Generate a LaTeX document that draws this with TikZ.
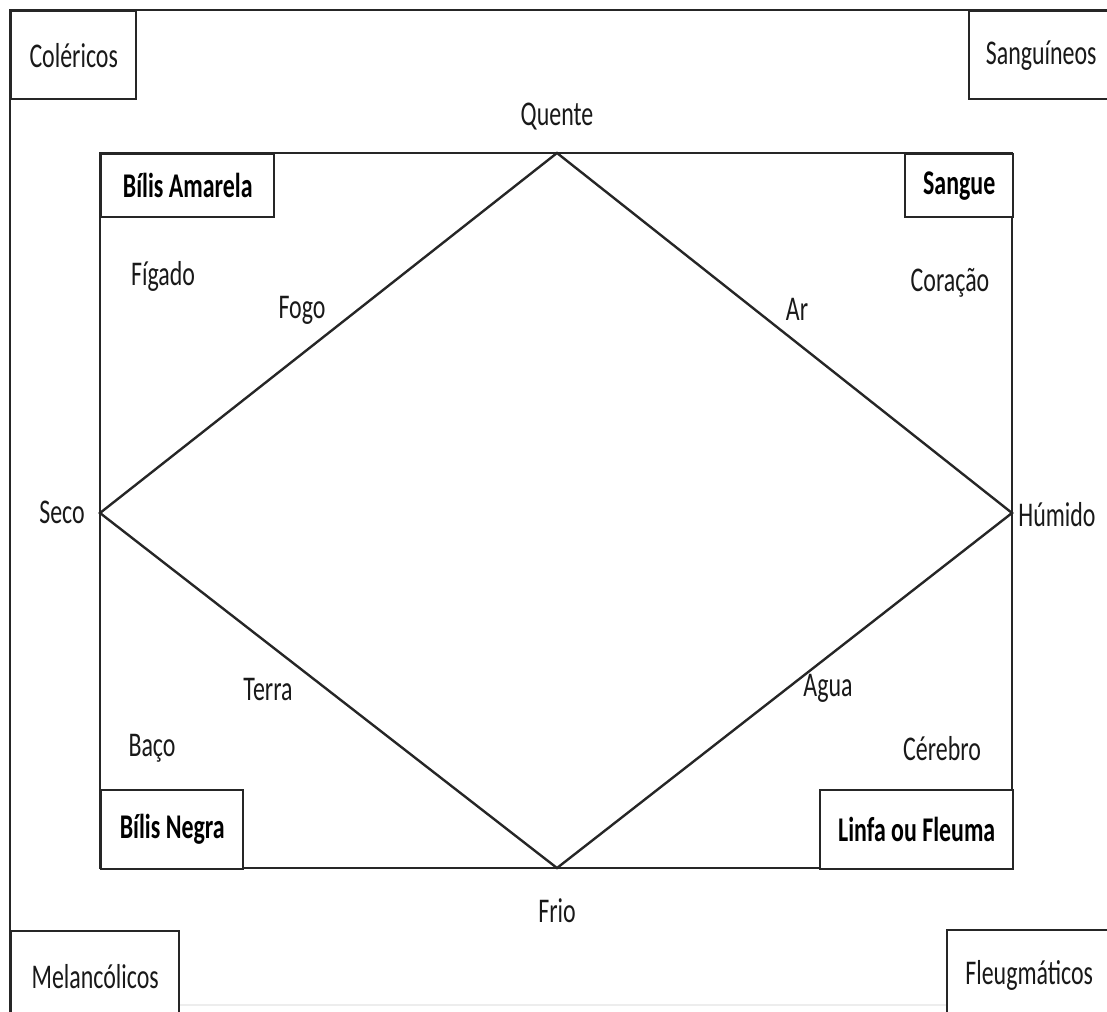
\documentclass[tikz,border=0pt]{standalone}
\usepackage{fontspec}
\usepackage{graphicx}
\setmainfont{Carlito}
\newcommand{\alto}[1]{\scalebox{1}[1.45]{#1}}
\tikzset{
  linha/.style={draw=black!85,line width=1.7pt},
  caixa/.style={linha,fill=white,anchor=north west,inner sep=0pt,
    font=\fontsize{17}{20}\selectfont,text=black!90},
  humor/.style={caixa,font=\fontsize{17}{20}\selectfont\bfseries,text=black},
  rotulo/.style={inner sep=1pt,font=\fontsize{17}{20}\selectfont,text=black!90}
}

\begin{document}
\begin{tikzpicture}[x=0.025cm,y=-0.025cm]
\useasboundingbox (0,0) rectangle (1107,1012);
\clip (0,0) rectangle (1107,1012);
% ---- moldura exterior ----
\draw[linha] (10,1020) |- (1120,10);
\draw[black!7,line width=1pt] (10,1005) -- (1107,1005);
% ---- rectangulo interior e losango ----
\draw[linha] (100,153) rectangle (1012,868);
\coordinate (quente) at (557,153);
\coordinate (humido) at (1012,513);
\coordinate (frio) at (557,868);
\coordinate (seco) at (100,513);
\draw[linha] (quente) -- (humido) -- (frio) -- (seco) -- cycle;
% ---- temperamentos nos cantos ----
\node[caixa,minimum width=3.125cm,minimum height=2.2cm] (coler) at (10,10) {\alto{Coléricos}};
\node[caixa,minimum width=3.6cm,minimum height=2.2cm] (sangui) at (968,10) {\alto{Sanguíneos}};
\node[caixa,minimum width=4.2cm,minimum height=2.25cm] (melanc) at (10,930) {\alto{Melancólicos}};
\node[caixa,minimum width=4.1cm,minimum height=2.25cm] (fleugm) at (946,929) {\alto{Fleugmáticos}};
% ---- humores ----
\node[humor,minimum width=4.325cm,minimum height=1.575cm] (bamar) at (100,153) {\alto{Bílis Amarela}};
\node[humor,minimum width=2.7cm,minimum height=1.575cm] (sangue) at (904,153) {\alto{Sangue}};
\node[humor,minimum width=3.55cm,minimum height=1.975cm] (bnegra) at (100,789) {\alto{Bílis Negra}};
\node[humor,minimum width=4.825cm,minimum height=1.975cm] (linfa) at (819,789) {\alto{Linfa ou Fleuma}};
% ---- qualidades, elementos e orgaos ----
\foreach \nome/\px/\py/\txt in {tquente/557/117/Quente, tfrio/557/911/Frio,
    tseco/62/512/Seco, thumido/1057/515/Húmido,
    figado/163/276/Fígado, fogo/302/310/Fogo, ar/797/309/Ar, coracao/950/283/Coração,
    terra/268/690/Terra, agua/828/688/Agua, baco/152/748/Baço, cerebro/942/749/Cérebro}
  \node[rotulo] (\nome) at (\px,\py) {\alto{\txt}};
\end{tikzpicture}
\end{document}
